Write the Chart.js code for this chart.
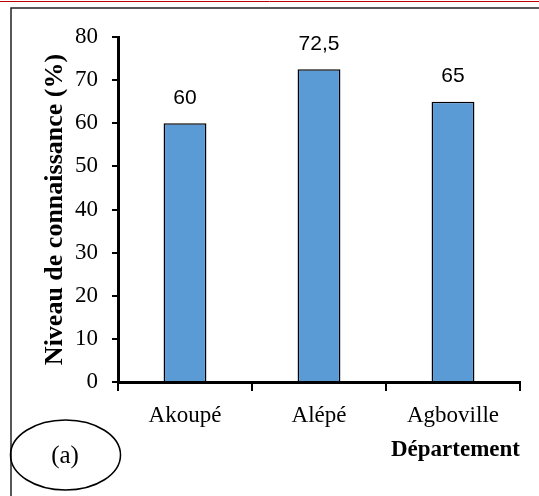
<!DOCTYPE html>
<html>
<head>
<meta charset="utf-8">
<script src="https://cdn.jsdelivr.net/npm/chart.js@4/dist/chart.umd.min.js"></script>
<style>
	body { margin: 0; background: #fff; }
	#wrap { width: 539px; height: 496px; position: relative; }
</style>
</head>
<body>
<div id="wrap"><canvas id="myChart"></canvas></div>
<script>
// data
var departements = ['Akoupé', 'Alépé', 'Agboville'];
var niveaux = [60, 72.5, 65];
var niveauLabels = ['60', '72,5', '65'];
var yTicks = [0, 10, 20, 30, 40, 50, 60, 70, 80];

// frame lines, ellipse "(a)" and values above the bars
var decorPlugin = {
	id: 'decor',
	beforeDraw: function(chart) {
		var ctx = chart.ctx;
		ctx.save();
		ctx.strokeStyle = '#c00000';
		ctx.lineWidth = 1;
		ctx.beginPath();
		ctx.moveTo(0, 1.5);
		ctx.lineTo(chart.width, 1.5);
		ctx.stroke();
		ctx.strokeStyle = '#222';
		ctx.lineWidth = 1.5;
		ctx.beginPath();
		ctx.moveTo(chart.width, 8);
		ctx.lineTo(11, 8);
		ctx.lineTo(11, chart.height);
		ctx.stroke();
		ctx.restore();
	},
	afterDraw: function(chart) {
		var ctx = chart.ctx;
		ctx.save();
		// values
		var meta = chart.getDatasetMeta(0);
		ctx.fillStyle = '#000';
		ctx.font = '21px "Liberation Sans", Arial, sans-serif';
		ctx.textAlign = 'center';
		ctx.textBaseline = 'middle';
		meta.data.forEach(function(bar, i) {
			ctx.fillText(niveauLabels[i], bar.x, bar.y - 25);
		});
		// (a) ellipse
		ctx.strokeStyle = '#000';
		ctx.lineWidth = 1.5;
		ctx.beginPath();
		ctx.ellipse(65.5, 455, 55, 35, 0, 0, Math.PI * 2);
		ctx.stroke();
		ctx.font = '25px "Liberation Serif", "Times New Roman", serif';
		ctx.fillText('(a)', 65, 456);
		ctx.restore();
	}
};

var ctx = document.getElementById('myChart');
var myChart = new Chart(ctx, {
	type: 'bar',
	data: {
		labels: departements,
		datasets: [{
			data: niveaux,
			backgroundColor: '#5b9bd5',
			borderColor: '#000',
			borderWidth: 1.5,
			barPercentage: 0.32,
			categoryPercentage: 1
		}]
	},
	options: {
		responsive: true,
		maintainAspectRatio: false,
		animation: false,
		layout: { padding: { left: 40, right: 19, top: 37, bottom: 30 } },
		plugins: {
			legend: { display: false },
			tooltip: { enabled: false }
		},
		scales: {
			x: {
				grid: { drawOnChartArea: false, color: '#000', lineWidth: 2, tickLength: 9, offset: true },
				border: { color: '#000', width: 3 },
				ticks: {
					color: '#000',
					padding: 11,
					maxRotation: 0,
					font: { family: '"Liberation Serif", "Times New Roman", serif', size: 23 }
				},
				title: {
					display: true,
					text: 'Département',
					align: 'end',
					color: '#000',
					padding: { top: 0, bottom: 2 },
					font: { family: '"Liberation Serif", "Times New Roman", serif', size: 23, weight: 'bold' }
				},
				afterFit: function(scale) { scale.height = 84; }
			},
			y: {
				min: 0,
				max: 80,
				afterBuildTicks: function(scale) {
					scale.ticks = yTicks.map(function(v) { return { value: v }; });
				},
				grid: { drawOnChartArea: false, color: '#000', lineWidth: 2, tickLength: 6 },
				border: { color: '#000', width: 3 },
				ticks: {
					color: '#000',
					padding: 14,
					font: { family: '"Liberation Serif", "Times New Roman", serif', size: 23 }
				},
				title: {
					display: true,
					text: 'Niveau de connaissance (%)',
					color: '#000',
					padding: { top: 0, bottom: 0 },
					font: { family: '"Liberation Serif", "Times New Roman", serif', size: 26, weight: 'bold' }
				},
				afterFit: function(scale) { scale.width = 78; }
			}
		}
	},
	plugins: [decorPlugin]
});
</script>
</body>
</html>
